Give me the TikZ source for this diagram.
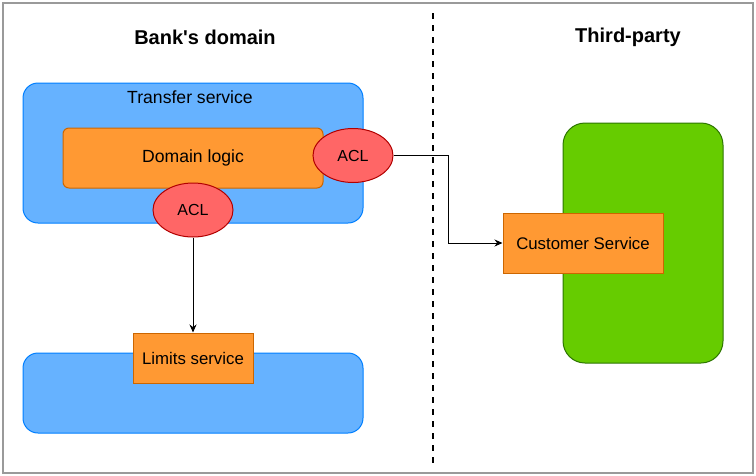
\documentclass[tikz,border=0pt]{standalone}
\usepackage{fontspec}
\setmainfont{Liberation Sans}
\usetikzlibrary{shapes.geometric,arrows.meta}
\definecolor{lblu}{HTML}{66B2FF}
\definecolor{dblu}{HTML}{007FFF}
\definecolor{lorg}{HTML}{FF9933}
\definecolor{dorg}{HTML}{CC6600}
\definecolor{lred}{HTML}{FF6666}
\definecolor{dred}{HTML}{B20000}
\definecolor{lgrn}{HTML}{66CC00}
\definecolor{dgrn}{HTML}{2D7600}
\definecolor{fgry}{HTML}{9A9A9A}
\tikzstyle{domains}=[
    box/.style={rectangle, inner sep=0pt, font={\fontsize{16.8}{20}\selectfont}},
    big text/.style={font={\fontsize{17.6}{21}\selectfont}},
    service/.style={box, rounded corners=15pt, fill=lblu, draw=dblu, line width=1pt},
    part/.style={box, fill=lorg, draw=dorg, line width=1pt},
    acl/.style={ellipse, inner sep=0pt, fill=lred, draw=dred, line width=1pt,
        minimum width=80pt, minimum height=54pt, font={\fontsize{16}{19}\selectfont}},
    vendor/.style={box, rounded corners=22pt, fill=lgrn, draw=dgrn, line width=1pt},
    title/.style={font={\bfseries\fontsize{20}{24}\selectfont}},
    link/.style={black, line width=1pt, -{Stealth[length=8pt,width=7pt]}},
    divider/.style={black, line width=2pt, dash pattern=on 6pt off 6pt},
]

\begin{document}
\begin{tikzpicture}
[
    domains,
    x=1pt, y=-1pt
]
    \useasboundingbox (0,0) rectangle (756,475);
    \draw[fgry, line width=1.2pt] (3,3) rectangle (753,473);

    % bank's side
    \node[title] (bank) at (205,37) {Bank\textquotesingle s domain};
    \node[service, minimum width=340pt, minimum height=140pt] (transfer) at (193,153) {};
    \node[box, big text] (transferlbl) at (190,97) {Transfer service};
    \node[part, big text, rounded corners=6pt, minimum width=260pt, minimum height=60pt] (logic) at (193,158) {Domain logic};
    \node[acl] (aclb) at (193,210) {ACL};
    \node[acl] (aclr) at (353,155.5) {ACL};

    \node[service, minimum width=340pt, minimum height=80pt] (limitsbox) at (193,393) {};
    \node[part, minimum width=120pt, minimum height=50pt] (limits) at (193,358) {Limits service};

    % third-party side
    \node[title] (third) at (628,37) {Third-party};
    \node[vendor, minimum width=160pt, minimum height=240pt] (vendorbox) at (643,243) {};
    \node[part, minimum width=160pt, minimum height=60pt] (customer) at (583,243) {Customer Service};

    \coordinate (divtop) at (433,13);
    \coordinate (divbot) at (433,463);
    \draw[divider] (divtop) -- (divbot);

    \coordinate (bend) at (448,155.5);
    \draw[link] (aclb) -- (limits);
    \draw[link] (aclr.east) -- (bend) |- (customer.west);
\end{tikzpicture}
\end{document}
